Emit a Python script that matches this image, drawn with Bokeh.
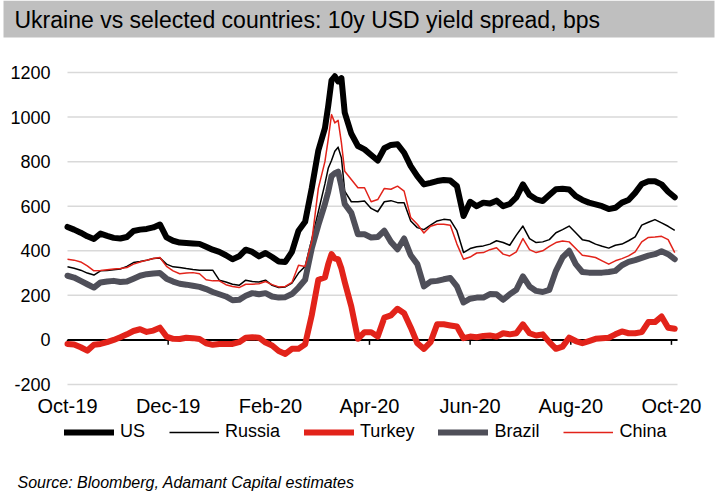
import pandas as pd
from bokeh.plotting import figure
from bokeh.models import (Range1d, FixedTicker, DatetimeTickFormatter, PrintfTickFormatter,
                          Legend, LegendItem, Label, BoxAnnotation, ColumnDataSource)
from bokeh.embed import file_html
from bokeh.resources import INLINE

# ---------------- data ----------------
dates = [
    "2019-10-01", "2019-10-05", "2019-10-09", "2019-10-13", "2019-10-17", "2019-10-21",
    "2019-10-25", "2019-10-29", "2019-11-02", "2019-11-06", "2019-11-10", "2019-11-14",
    "2019-11-18", "2019-11-22", "2019-11-26", "2019-11-30", "2019-12-04", "2019-12-08",
    "2019-12-12", "2019-12-16", "2019-12-20", "2019-12-24", "2019-12-28", "2020-01-01",
    "2020-01-05", "2020-01-09", "2020-01-13", "2020-01-17", "2020-01-21", "2020-01-25",
    "2020-01-29", "2020-02-02", "2020-02-06", "2020-02-10", "2020-02-14", "2020-02-18",
    "2020-02-22", "2020-02-26", "2020-03-01", "2020-03-05",
    "2020-03-07", "2020-03-09", "2020-03-11", "2020-03-13", "2020-03-15", "2020-03-17",
    "2020-03-21", "2020-03-25", "2020-03-29", "2020-04-02", "2020-04-06", "2020-04-10",
    "2020-04-14", "2020-04-18", "2020-04-22", "2020-04-26", "2020-04-30", "2020-05-04",
    "2020-05-08", "2020-05-12", "2020-05-16", "2020-05-20", "2020-05-24", "2020-05-28",
    "2020-06-01", "2020-06-05", "2020-06-09", "2020-06-13", "2020-06-17", "2020-06-21",
    "2020-06-25", "2020-06-29", "2020-07-03", "2020-07-07", "2020-07-11", "2020-07-15",
    "2020-07-19", "2020-07-23", "2020-07-27", "2020-07-31", "2020-08-04", "2020-08-08",
    "2020-08-12", "2020-08-16", "2020-08-20", "2020-08-24", "2020-08-28", "2020-09-01",
    "2020-09-05", "2020-09-09", "2020-09-13", "2020-09-17", "2020-09-21", "2020-09-25",
    "2020-09-29", "2020-10-03",
]

us = [
    507, 495, 481, 465, 453, 477, 467, 458, 455, 462, 489, 495, 498, 505, 518, 460, 445, 437,
    435, 433, 431, 418, 405, 395, 380, 362, 375, 405, 395, 375, 390, 372, 352, 350, 395, 490,
    530, 680, 850, 950,
    1050, 1165, 1183, 1160, 1175, 1020,
    925, 870, 855, 830, 805, 860, 875, 878, 840, 780, 735, 698, 705, 713, 718, 715, 690, 556,
    620, 600, 616, 612, 625, 600, 610, 640, 698, 650, 631, 623, 650, 676, 678, 675, 645, 628,
    616, 608, 600, 587, 593, 616, 628, 660, 700, 712, 712, 698, 665, 640,
]

russia = [
    328, 322, 313, 300, 291, 310, 312, 315, 318, 330, 347, 352, 358, 365, 368, 340, 328, 325,
    320, 316, 313, 313, 313, 268, 260, 250, 245, 268, 262, 260, 268, 245, 235, 238, 255, 300,
    330, 450, 575, 700,
    770, 805, 847, 865, 817, 668,
    620, 620, 623, 590, 575, 620, 625, 616, 616, 534, 504, 495, 515, 534, 541, 538, 490, 392,
    410, 418, 422, 430, 445, 437, 425, 470, 511, 455, 437, 440, 450, 481, 495, 511, 481, 450,
    444, 430, 420, 412, 425, 430, 445, 462, 515, 528, 540, 525, 510, 492,
]

turkey = [
    -18, -20, -33, -48, -22, -18, -10, 0, 12, 25, 40, 48, 36, 42, 55, 15, 5, 4,
    10, 8, 4, -15, -22, -18, -18, -18, -10, 10, 12, 10, -12, -25, -50, -63, -40, -40,
    -20, 110, 270, 280,
    340, 385, 365, 362, 320, 260,
    150, 5, 35, 35, 15, 100, 110, 140, 120, 56, -15, -40, -10, 70, 70, 65, 60, 8,
    15, 12, 18, 20, 15, 30, 25, 30, 70, 30, 20, 25, -10, -40, -30, 10, -5, -15,
    -5, 5, 8, 10, 25, 38, 30, 30, 35, 80, 80, 105, 55, 50,
]

brazil = [
    288, 280, 265, 250, 235, 258, 262, 265, 260, 262, 275, 288, 295, 298, 300, 275, 262, 252,
    248, 243, 238, 228, 215, 205, 195, 178, 180, 198, 210, 205, 210, 195, 190, 192, 206, 235,
    270, 410, 515, 610,
    665, 735, 748, 755, 690, 610,
    570, 474, 474, 460, 462, 490, 440, 407, 455, 380, 340, 240, 262, 265, 272, 278, 240, 168,
    185, 190, 190, 206, 205, 180, 205, 225, 285, 240, 220, 215, 225, 310, 370, 400, 340, 305,
    302, 302, 302, 305, 310, 335, 350, 358, 368, 378, 385, 398, 385, 362,
]

china = [
    362, 358, 350, 332, 310, 312, 315, 318, 320, 325, 340, 350, 358, 365, 370, 330, 310, 297,
    300, 302, 297, 270, 265, 265, 248, 240, 235, 250, 250, 252, 262, 248, 238, 240, 258, 335,
    330, 440, 680, 800,
    900, 1011, 974, 985, 884, 757,
    720, 683, 683, 620, 630, 680, 676, 690, 668, 549, 519, 480, 510, 519, 519, 515, 430, 362,
    372, 390, 392, 405, 414, 385, 377, 395, 455, 405, 392, 400, 420, 437, 444, 440, 410, 380,
    375, 370, 355, 340, 355, 365, 377, 395, 440, 460, 462, 465, 450, 392,
]

x_ticks = ["2019-10-01", "2019-12-01", "2020-02-01", "2020-04-01",
           "2020-06-01", "2020-08-01", "2020-10-01"]
y_ticks = [-200, 0, 200, 400, 600, 800, 1000, 1200]

title_text = "Ukraine vs selected countries: 10y USD yield spread, bps"
source_text = "Source: Bloomberg, Adamant Capital estimates"

FONT = "Liberation Sans"

# ---------------- geometry: the frame covers the whole canvas ----------------
W, H = 721, 497
PL, PR, PT, PB = 67, 677, 72, 384            # plot area on the canvas (pixels)
X0 = pd.Timestamp("2019-10-01")              # date at the left edge of the plot area
X1 = pd.Timestamp("2020-10-04 16:00")        # date at the right edge of the plot area
Y0, Y1 = y_ticks[0], y_ticks[-1]

x0_ms = X0.timestamp() * 1000
x1_ms = X1.timestamp() * 1000
ms_per_px = (x1_ms - x0_ms) / (PR - PL)
v_per_px = (Y1 - Y0) / (PB - PT)
x_range = Range1d(x0_ms - PL * ms_per_px, x1_ms + (W - PR) * ms_per_px)
y_range = Range1d(Y0 - (H - PB) * v_per_px, Y1 + PT * v_per_px)


def cy(y):  # canvas y (downwards) -> screen units (upwards from the canvas bottom)
    return H - y


src = ColumnDataSource(dict(date=pd.to_datetime(dates), us=us, russia=russia,
                            turkey=turkey, brazil=brazil, china=china))

p = figure(width=W, height=H, x_axis_type="datetime", output_backend="svg",
           toolbar_location=None, x_range=x_range, y_range=y_range,
           min_border=0, min_border_left=0, min_border_right=0,
           min_border_top=0, min_border_bottom=0)
p.outline_line_color = None
p.background_fill_color = "white"
p.border_fill_color = "white"
p.grid.visible = False

# axes drawn at the edges of the plot area
tick_ms = [pd.Timestamp(d).timestamp() * 1000 for d in x_ticks]
fmt = "%b-%y"
p.xaxis.fixed_location = Y0
p.xaxis.ticker = FixedTicker(ticks=tick_ms)
p.xaxis.formatter = DatetimeTickFormatter(
    microseconds=fmt, milliseconds=fmt, seconds=fmt, minsec=fmt, minutes=fmt,
    hourmin=fmt, hours=fmt, days=fmt, months=fmt, years=fmt)
p.xaxis.axis_line_color = None
p.xaxis.major_tick_line_color = None
p.xaxis.minor_tick_line_color = None
p.xaxis.major_tick_out = 0
p.xaxis.major_tick_in = 0
p.xaxis.major_label_standoff = 10
p.xaxis.major_label_text_font = FONT
p.xaxis.major_label_text_font_size = "20px"
p.xaxis.major_label_text_color = "black"

p.yaxis.fixed_location = x0_ms
p.yaxis.ticker = FixedTicker(ticks=y_ticks)
p.yaxis.formatter = PrintfTickFormatter(format="%d")
p.yaxis.axis_line_color = None
p.yaxis.major_tick_line_color = None
p.yaxis.minor_tick_line_color = None
p.yaxis.major_tick_out = 0
p.yaxis.major_tick_in = 0
p.yaxis.major_label_standoff = 17
p.yaxis.major_label_text_font = FONT
p.yaxis.major_label_text_font_size = "18px"
p.yaxis.major_label_text_color = "black"

# horizontal gridlines over the plot area only
n_y = len(y_ticks)
p.segment(x0=[X0] * n_y, y0=y_ticks, x1=[X1] * n_y, y1=y_ticks,
          line_color="#D9D9D9", line_width=1.5)
# zero line acting as the date axis, with its tick marks
p.segment(x0=[X0], y0=[0], x1=[X1], y1=[0], line_color="black", line_width=2)
tick_dt = pd.to_datetime(x_ticks)
p.segment(x0=tick_dt, y0=[0] * len(x_ticks), x1=tick_dt, y1=[-22] * len(x_ticks),
          line_color="black", line_width=1.5)

thick = dict(line_width=6, line_join="round", line_cap="round")
thin = dict(line_width=1.5, line_join="round")
r_us = p.line("date", "us", source=src, line_color="black", **thick)
r_ru = p.line("date", "russia", source=src, line_color="black", **thin)
r_tr = p.line("date", "turkey", source=src, line_color="#E2231A", **thick)
r_br = p.line("date", "brazil", source=src, line_color="#4F4F59", **thick)
r_cn = p.line("date", "china", source=src, line_color="#E2231A", **thin)

legend = Legend(items=[LegendItem(label="US", renderers=[r_us]),
                       LegendItem(label="Russia", renderers=[r_ru]),
                       LegendItem(label="Turkey", renderers=[r_tr]),
                       LegendItem(label="Brazil", renderers=[r_br]),
                       LegendItem(label="China", renderers=[r_cn])],
                orientation="horizontal", location=(64, cy(442)),
                glyph_width=50, glyph_height=20, label_standoff=6, spacing=24,
                padding=0, margin=0, border_line_color=None, background_fill_alpha=0,
                label_text_font=FONT, label_text_font_size="18px",
                label_text_color="black")
p.add_layout(legend, "center")

# title band and source note
p.add_layout(BoxAnnotation(left=3, right=714, top=cy(0), bottom=cy(37),
                           left_units="screen", right_units="screen",
                           top_units="screen", bottom_units="screen",
                           fill_color="#BFBFBF", fill_alpha=1, line_color=None,
                           level="underlay"))
p.add_layout(Label(x=14, y=cy(19), x_units="screen", y_units="screen", text=title_text,
                   text_font=FONT, text_font_size="23px", text_baseline="middle",
                   text_color="black"))
p.add_layout(Label(x=17, y=cy(482), x_units="screen", y_units="screen", text=source_text,
                   text_font=FONT, text_font_size="16px", text_font_style="italic",
                   text_baseline="middle", text_color="black"))

open("out.html", "w").write(file_html(p, INLINE))
